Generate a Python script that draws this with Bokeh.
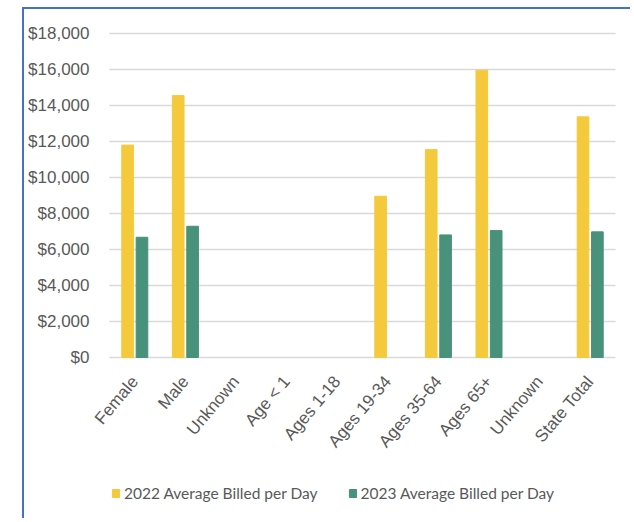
import math
from bokeh.plotting import figure
from bokeh.models import (Range1d, FixedTicker, NumeralTickFormatter, Legend, LegendItem)
from bokeh.embed import file_html
from bokeh.resources import INLINE

categories = ["Female", "Male", "Unknown", "Age < 1", "Ages 1-18", "Ages 19-34",
              "Ages 35-64", "Ages 65+", "Unknown", "State Total"]
nan = float("nan")
avg_2022 = [11800, 14550, nan, nan, nan, 8960, 11550, 15960, nan, 13370]
avg_2023 = [6680, 7290, nan, nan, nan, nan, 6810, 7050, nan, 6980]
y_ticks = [0, 2000, 4000, 6000, 8000, 10000, 12000, 14000, 16000, 18000]
series_names = ["2022 Average Billed per Day", "2023 Average Billed per Day"]

YELLOW = "#F4C93B"
GREEN = "#48917A"
GREY = "#595959"
GRID = "#D9D9D9"

# layout in pixels (canvas coordinates)
W, H = 608, 511
TOP_PAD = 24                       # canvas pixels above the 18,000 line
BOTTOM = 5
PLOT_L, PLOT_R = 85, 591          # where the category area starts/ends on the canvas
px_per_unit = 324 / 18000
frame_h = H - BOTTOM
y_end = 18000 + TOP_PAD / px_per_unit
y_start = y_end - frame_h / px_per_unit
n = len(categories)
px_per_cat = (PLOT_R - PLOT_L) / n
x_start = -0.5 - PLOT_L / px_per_cat
x_end = n - 0.5 + (W - PLOT_R) / px_per_cat

xs = list(range(n))

p = figure(width=W, height=H, output_backend="svg", toolbar_location=None,
           x_range=Range1d(x_start, x_end), y_range=Range1d(y_start, y_end),
           min_border_left=0, min_border_right=0, min_border_top=0,
           min_border_bottom=BOTTOM)
p.styles = {"border-top": "2px solid #4472C4", "border-left": "2px solid #4472C4",
            "margin-left": "22px", "margin-top": "7px"}
p.outline_line_color = None
p.xgrid.visible = False
p.ygrid.visible = False

# horizontal gridlines over the category area
p.segment(x0=[-0.5] * len(y_ticks), x1=[n - 0.5] * len(y_ticks), y0=y_ticks, y1=y_ticks,
          line_color=GRID, line_width=1.5)

r1 = p.vbar(x=[x - 0.142 for x in xs], top=avg_2022, width=0.23, color=YELLOW)
r2 = p.vbar(x=[x + 0.142 for x in xs], top=avg_2023, width=0.23, color=GREEN)

p.yaxis.fixed_location = -0.5
p.yaxis.ticker = FixedTicker(ticks=y_ticks)
p.yaxis.formatter = NumeralTickFormatter(format="$0,0")
p.yaxis.axis_line_color = None
p.yaxis.major_tick_line_color = None
p.yaxis.minor_tick_line_color = None
p.yaxis.major_label_standoff = 14
p.yaxis.major_label_text_font = "Liberation Sans"
p.yaxis.major_label_text_font_size = "17px"
p.yaxis.major_label_text_color = GREY

p.xaxis.fixed_location = 0
p.xaxis.ticker = FixedTicker(ticks=xs)
p.xaxis.major_label_overrides = {i: c for i, c in enumerate(categories)}
p.xaxis.major_label_orientation = 0.87
p.xaxis.axis_line_color = None
p.xaxis.major_tick_line_color = None
p.xaxis.minor_tick_line_color = None
p.xaxis.major_label_standoff = 15
p.xaxis.major_label_text_font = "Liberation Sans"
p.xaxis.major_label_text_font_size = "17px"
p.xaxis.major_label_text_color = GREY

legend = Legend(items=[LegendItem(label=series_names[0], renderers=[r1]),
                       LegendItem(label=series_names[1], renderers=[r2])],
                orientation="horizontal", location=(PLOT_L + 2, 12),
                glyph_width=9, glyph_height=10, label_standoff=4, spacing=30,
                padding=0, margin=0, border_line_color=None, background_fill_alpha=0,
                label_text_font="Lato", label_text_font_size="15.5px",
                label_text_color=GREY, label_height=20)
p.add_layout(legend, "center")

open("out.html", "w").write(file_html(p, INLINE))
